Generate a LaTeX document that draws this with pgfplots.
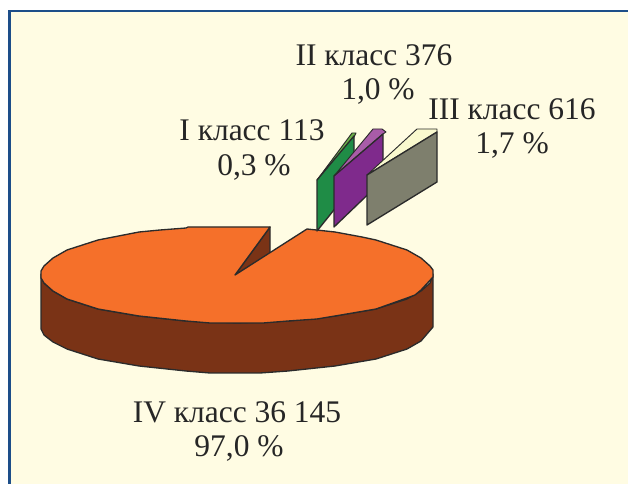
\documentclass[border=0pt]{standalone}
\usepackage{fontspec}
\setmainfont{Liberation Serif}
\usepackage{pgfplots}
\pgfplotsset{compat=1.18}
\definecolor{bgc}{HTML}{FFFCE3}
\definecolor{framec}{HTML}{1D4E89}
\definecolor{org}{HTML}{F5702A}
\definecolor{brn}{HTML}{7A3316}
\definecolor{edgec}{HTML}{2B2B2B}
\definecolor{grn}{HTML}{1F8C46}
\definecolor{grnl}{HTML}{6CB04A}
\definecolor{pur}{HTML}{7F2A8C}
\definecolor{purl}{HTML}{A85CA8}
\definecolor{gry}{HTML}{7E7F6D}
\definecolor{crm}{HTML}{F9F9CE}
\tikzset{lab/.style={font=\fontsize{23.6}{26}\selectfont, text=black!85, inner sep=0pt}}
\begin{document}
\begin{tikzpicture}
\begin{axis}[
  scale only axis, width=471pt, height=363pt,
  xmin=0, xmax=628, ymin=0, ymax=484, y dir=reverse,
  hide axis, clip=true,
  every axis plot/.append style={no markers, line width=1pt, draw=edgec, line join=round},
]
\addplot[fill=white, draw=none] coordinates {(0,0)(628,0)(628,484)(0,484)} --cycle;
\addplot[fill=framec, draw=none] coordinates {(8,10)(628,10)(628,484)(8,484)} --cycle;
\addplot[fill=bgc, draw=none] coordinates {(10.5,12.5)(628,12.5)(628,484)(10.5,484)} --cycle;
% side wall
\addplot[fill=brn] coordinates {(41,274)(41,329)(44,335)(53,342)(67,349)(98,359)(139,366)(186,371)(210,373)(260,373)(288,371)(335,366)(376,359)(407,349)(421,341)(433,327)(433,274)(430,283)(421,291)(407,299)(376,309)(335,316)(288,321)(237,323)(186,321)(139,316)(98,309)(67,299)(53,291)(44,283)} --cycle;
% back wall of the notch
\addplot[fill=brn] coordinates {(270,227)(270,254)(235,275)} --cycle;
% top
\addplot[fill=org] coordinates {(235,275)(270,227)(188,227)(186,228)(160,230)(139,232)(98,240)(67,250)(53,258)(44,266)(41,271)(41,278)(44,283)(53,291)(67,299)(98,309)(139,316)(186,321)(210,323)(237,323)(263,323)(288,321)(317,319)(335,316)(376,309)(407,298)(415,295)(421,290)(433,277)(433,270)(430,266)(421,258)(407,250)(376,240)(362,237)(335,232)(307,229)} --cycle;
% green
\addplot[fill=grnl, line width=.7pt] coordinates {(317,180)(352,133)(356,133)(354,137)} --cycle;
\addplot[fill=grn] coordinates {(317,180)(354,136)(354,185)(317,231)} --cycle;
% purple
\addplot[fill=purl, line width=.7pt] coordinates {(334,176)(373,129)(382,129)(386,132)(383,134)} --cycle;
\addplot[fill=pur] coordinates {(334,176)(383,134)(383,180)(334,227)} --cycle;
% grey
\addplot[fill=crm, line width=.7pt] coordinates {(367,175)(417,129)(437,129)(437,132)} --cycle;
\addplot[fill=gry] coordinates {(367,175)(437,132)(437,182)(367,225)} --cycle;
\node[lab] at (axis cs:374,55) {II класс 376};
\node[lab] at (axis cs:378,91) {1,0 \%};
\node[lab] at (axis cs:512,109) {III класс 616};
\node[lab] at (axis cs:512,145) {1,7 \%};
\node[lab] at (axis cs:252,130) {I класс 113};
\node[lab] at (axis cs:254,167) {0,3 \%};
\node[lab] at (axis cs:237,412) {IV класс 36 145};
\node[lab] at (axis cs:239,448) {97,0 \%};
\end{axis}
\end{tikzpicture}
\end{document}
